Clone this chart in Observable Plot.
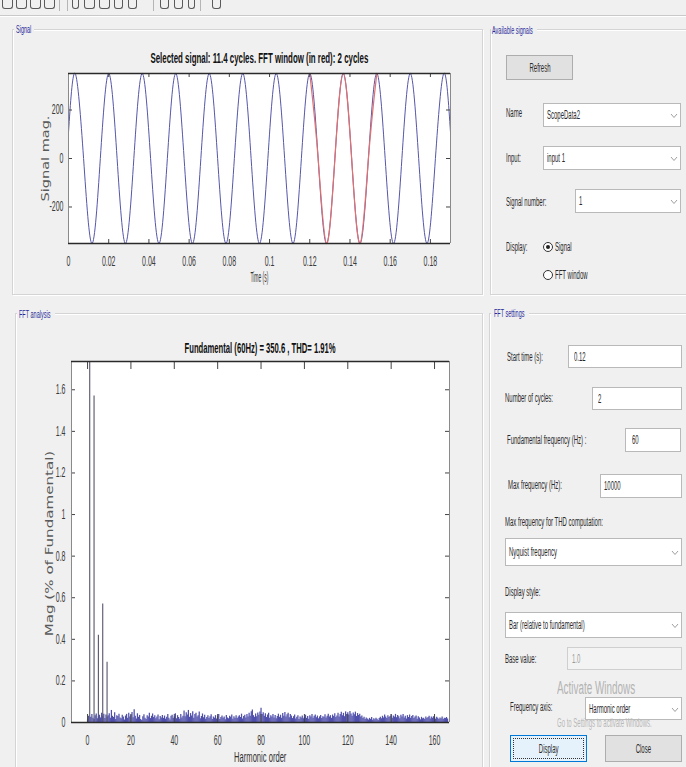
<!DOCTYPE html>
<html>
<head>
<meta charset="utf-8">
<script src="https://cdn.jsdelivr.net/npm/d3@7"></script>
<script src="https://cdn.jsdelivr.net/npm/@observablehq/plot@0.6"></script>
<style>
html, body { margin: 0; padding: 0; }
body { width: 686px; height: 767px; overflow: hidden; background: #f0f0f0; position: relative;
       font-family: "Liberation Sans", Arial, sans-serif; }
.chart { position: absolute; }
.chart svg { display: block; overflow: visible; }
.t { position: absolute; white-space: nowrap; color: #1e1e1e; }
.panel { position: absolute; border: 1px solid #d4d4d4; box-shadow: inset 1px 1px 0 #ffffff, 1px 1px 0 #ffffff; }
.box { position: absolute; background: #ffffff; border: 1px solid #b9b9b9; box-sizing: border-box; }
.box.dis { background: #f3f3f3; border-color: #cfcfcf; }
.btn { position: absolute; background: #e1e1e1; border: 1px solid #adadad; box-sizing: border-box; }
.lbl { position: absolute; background: #f0f0f0; height: 10px; }
#ui { position: absolute; left: 0; top: 0; width: 686px; height: 767px; }
</style>
</head>
<body>
<div id="topChart" class="chart" style="left:0px; top:40px;"></div>
<div id="fftChart" class="chart" style="left:0px; top:330px;"></div>
<div id="ui"></div>
<script>
// ---------------- data ----------------
// Signal (time domain)
const timeTicks = [0, 0.02, 0.04, 0.06, 0.08, 0.1, 0.12, 0.14, 0.16, 0.18];
const signalTicks = [-200, 0, 200];
const timeDomain = [0, 0.19];
const signalDomain = [-350.6, 350.6];
const sampleTime = [0, 0.00333, 0.0075, 0.01167, 0.01583, 0.02, 0.02417, 0.02833, 0.0325,
  0.03667, 0.04083, 0.045, 0.04917, 0.05333, 0.0575, 0.06167, 0.06583, 0.07, 0.07417,
  0.07833, 0.0825, 0.08667, 0.09083, 0.095, 0.09917, 0.10333, 0.1075, 0.11167, 0.11583,
  0.12, 0.12417, 0.12833, 0.1325, 0.13667, 0.14083, 0.145, 0.14917, 0.15333, 0.1575,
  0.16167, 0.16583, 0.17, 0.17417, 0.17833, 0.1825, 0.18667, 0.19];
const sampleMag = [108,
  350.6, 0, -350.6, 0,  350.6, 0, -350.6, 0,  350.6, 0, -350.6, 0,  350.6, 0, -350.6, 0,
  350.6, 0, -350.6, 0,  350.6, 0, -350.6, 0,  350.6, 0, -350.6, 0,  350.6, 0, -350.6, 0,
  350.6, 0, -350.6, 0,  350.6, 0, -350.6, 0,  350.6, 0, -350.6, 0,
  350.6, 108];
const windowStart = 0.12;   // FFT window (in red)
const windowEnd = 0.15334;  // 2 cycles of 60 Hz

// FFT analysis (harmonic spectrum, % of fundamental)
const harmonicTicks = [0, 20, 40, 60, 80, 100, 120, 140, 160];
const magTicks = [0, 0.2, 0.4, 0.6, 0.8, 1, 1.2, 1.4, 1.6];
const harmonicDomain = [-7.4, 166.9];
const magDomain = [0, 1.736];
const harmonicOrder = [1, 3, 5, 7, 9];
const harmonicMag = [100, 1.57, 0.42, 0.57, 0.29];
const noiseStart = 0;
const noiseStep = 0.5;
const noiseMag = [
  0.012,0.030,0.000,0.025,0.038,0.020,0.015,0.032,0.041,0.018,
  0.028,0.035,0.022,0.045,0.030,0.040,0.019,0.036,0.026,0.033,
  0.042,0.021,0.058,0.030,0.024,0.047,0.015,0.033,0.029,0.040,
  0.022,0.018,0.035,0.027,0.012,0.031,0.039,0.020,0.044,0.026,
  0.036,0.048,0.023,0.061,0.030,0.017,0.042,0.025,0.034,0.014,
  0.010,0.028,0.037,0.021,0.015,0.033,0.026,0.045,0.019,0.030,
  0.041,0.024,0.032,0.018,0.027,0.036,0.013,0.029,0.022,0.034,
  0.020,0.031,0.016,0.025,0.038,0.021,0.012,0.030,0.035,0.019,
  0.027,0.042,0.018,0.033,0.024,0.016,0.039,0.022,0.030,0.055,
  0.028,0.047,0.036,0.058,0.025,0.043,0.031,0.052,0.020,0.038,
  0.045,0.026,0.033,0.050,0.018,0.029,0.041,0.023,0.035,0.016,
  0.024,0.032,0.019,0.028,0.037,0.014,0.026,0.021,0.033,0.017,
  0.029,0.038,0.015,0.024,0.031,0.020,0.027,0.013,0.034,0.022,
  0.018,0.030,0.025,0.036,0.016,0.028,0.021,0.033,0.019,0.026,
  0.032,0.024,0.040,0.017,0.029,0.035,0.022,0.038,0.027,0.044,
  0.030,0.052,0.060,0.033,0.025,0.041,0.028,0.046,0.035,0.050,
  0.068,0.039,0.047,0.030,0.042,0.024,0.036,0.045,0.020,0.032,
  0.027,0.038,0.022,0.034,0.018,0.029,0.040,0.025,0.035,0.021,
  0.043,0.030,0.048,0.026,0.037,0.045,0.023,0.039,0.031,0.019,
  0.028,0.036,0.017,0.025,0.033,0.014,0.027,0.022,0.031,0.018,
  0.024,0.035,0.020,0.029,0.016,0.033,0.026,0.038,0.021,0.030,
  0.036,0.023,0.031,0.018,0.027,0.034,0.019,0.028,0.025,0.037,
  0.022,0.030,0.040,0.026,0.033,0.020,0.036,0.029,0.042,0.024,
  0.031,0.045,0.027,0.038,0.049,0.033,0.044,0.028,0.051,0.039,
  0.047,0.035,0.053,0.041,0.030,0.046,0.037,0.050,0.029,0.043,
  0.034,0.040,0.026,0.031,0.019,0.025,0.014,0.022,0.017,0.012,
  0.020,0.015,0.024,0.011,0.018,0.013,0.021,0.016,0.010,0.019,
  0.025,0.018,0.030,0.022,0.036,0.027,0.019,0.033,0.024,0.029,
  0.037,0.021,0.031,0.026,0.039,0.023,0.034,0.028,0.018,0.035,
  0.027,0.038,0.022,0.030,0.017,0.033,0.024,0.036,0.020,0.029,
  0.034,0.019,0.026,0.031,0.016,0.028,0.022,0.013,0.025,0.018,
  0.021,0.014,0.027,0.019,0.024,0.030,0.017,0.026,0.020,0.028,
  0.023,0.016,0.025,0.020,0.014,0.022,0.018,0.027,0.015,0.021,
  0.019,0.024,0.017
];

// ---------------- tables ----------------
const signal = sampleTime.map((t, i) => ({t, v: sampleMag[i]}));
const windowPart = signal.filter(d => d.t >= windowStart - 1e-9 && d.t <= windowEnd);
const mainBars = harmonicOrder.map((h, i) => ({h, mag: harmonicMag[i]}));
const noiseBars = noiseMag.map((m, i) => ({h: noiseStart + i * noiseStep, mag: m}));

const FONT = "'Liberation Sans', Arial, Helvetica, sans-serif";

function squish(svg, sx) {
  svg.querySelectorAll("text").forEach(t => {
    const tr = t.getAttribute("transform");
    if (tr && /translate/.test(tr)) t.setAttribute("transform", tr + ` scale(${sx},1)`);
    else {
      const x = +(t.getAttribute("x") || 0);
      t.setAttribute("transform", `${tr || ""} translate(${x},0) scale(${sx},1) translate(${-x},0)`);
    }
  });
}

// ---------------- top chart: signal ----------------
{
  const W = 470, H = 250, mL = 68, mR = 20, mT = 33, mB = 47;
  const fh = H - mT - mB, fw = W - mL - mR;
  const chart = Plot.plot({
    width: W, height: H, marginLeft: mL, marginRight: mR, marginTop: mT, marginBottom: mB,
    style: {background: "transparent", fontFamily: FONT, fontSize: "14px", color: "#3a3a3a"},
    x: {domain: timeDomain, ticks: timeTicks, tickFormat: d => String(+d.toFixed(2)), tickSize: 0, tickPadding: 13, label: null},
    y: {domain: signalDomain, ticks: signalTicks, tickFormat: d => String(d), tickSize: 0, tickPadding: 5, label: null},
    marks: [
      Plot.frame({fill: "white", stroke: "none"}),
      Plot.line(signal, {x: "t", y: "v", stroke: "#5656aa", strokeWidth: 1, curve: "natural"}),
      Plot.line(windowPart, {x: "t", y: "v", stroke: "#e27070", strokeWidth: 1.2, curve: "natural"}),
      Plot.ruleX(timeTicks, {x: d => d, insetTop: fh - 4, stroke: "#444"}),
      Plot.ruleX(timeTicks, {x: d => d, insetBottom: fh - 4, stroke: "#444"}),
      Plot.ruleY(signalTicks, {y: d => d, insetRight: fw - 4, stroke: "#444"}),
      Plot.ruleY(signalTicks, {y: d => d, insetLeft: fw - 4, stroke: "#444"}),
      Plot.ruleX(timeDomain, {x: d => d, stroke: "#8a8a8a"}),
      Plot.ruleY(signalDomain, {y: d => d, stroke: "#2a2a2a", strokeWidth: 1.5})
    ]
  });
  squish(chart, 0.5);
  document.getElementById("topChart").appendChild(chart);
}

// ---------------- bottom chart: FFT ----------------
{
  const W = 470, H = 420, mL = 71, mR = 21, mT = 31, mB = 28;
  const fh = H - mT - mB, fw = W - mL - mR;
  const chart = Plot.plot({
    width: W, height: H, marginLeft: mL, marginRight: mR, marginTop: mT, marginBottom: mB,
    style: {background: "transparent", fontFamily: FONT, fontSize: "14px", color: "#3a3a3a"},
    x: {domain: harmonicDomain, ticks: harmonicTicks, tickSize: 0, tickPadding: 13, label: null},
    y: {domain: magDomain, ticks: magTicks, tickFormat: d => String(+d.toFixed(1)), tickSize: 0, tickPadding: 6, label: null},
    marks: [
      Plot.frame({fill: "white", stroke: "none"}),
      Plot.ruleX(noiseBars, {x: "h", y1: 0, y2: "mag", stroke: "#5050ac", strokeWidth: 1.25}),
      Plot.ruleX(mainBars, {x: "h", y1: 0, y2: "mag", stroke: "#55556a", strokeWidth: 1.1, clip: true}),
      Plot.ruleX(harmonicTicks, {x: d => d, insetTop: fh - 8, stroke: "#444"}),
      Plot.ruleX(harmonicTicks, {x: d => d, insetBottom: fh - 8, stroke: "#444"}),
      Plot.ruleY(magTicks, {y: d => d, insetRight: fw - 4, stroke: "#444"}),
      Plot.ruleY(magTicks, {y: d => d, insetLeft: fw - 4, stroke: "#444"}),
      Plot.ruleX(harmonicDomain, {x: d => d, stroke: "#8a8a8a"}),
      Plot.ruleY(magDomain, {y: d => d, stroke: "#2a2a2a", strokeWidth: 1.5})
    ]
  });
  squish(chart, 0.5);
  document.getElementById("fftChart").appendChild(chart);
}

// ---------------- GUI (panels, controls, titles) ----------------
const ui = document.getElementById("ui");
function el(cls, x, y, w, h, style) {
  const d = document.createElement("div");
  d.className = cls;
  Object.assign(d.style, {left: x + "px", top: y + "px", width: w + "px", height: h + "px"}, style || {});
  ui.appendChild(d);
  return d;
}
function txt(str, x, y, o = {}) {
  const d = document.createElement("div");
  d.className = "t";
  d.textContent = str;
  const size = o.size || 12;
  Object.assign(d.style, {fontSize: size + "px", lineHeight: size + "px", fontFamily: o.family || FONT,
    fontWeight: o.weight || "normal", color: o.color || "#2a2a2a", zIndex: o.z || 1});
  ui.appendChild(d);
  const w = d.offsetWidth;
  d.style.top = (y - size / 2) + "px";
  if (o.rotate) {
    d.style.left = (x - w / 2) + "px";
    d.style.transformOrigin = "50% 50%";
    const along = o.width ? o.width / w : 1;
    d.style.transform = `scaleX(${o.sx || 0.65}) rotate(-90deg) scaleX(${along})`;
    return d;
  }
  const sx = o.width ? o.width / w : (o.sx || 0.5);
  const a = o.anchor || "start";
  if (a === "middle") { d.style.left = (x - w / 2) + "px"; d.style.transformOrigin = "50% 50%"; }
  else if (a === "end") { d.style.left = (x - w) + "px"; d.style.transformOrigin = "100% 50%"; }
  else { d.style.left = x + "px"; d.style.transformOrigin = "0 50%"; }
  d.style.transform = `scaleX(${sx})`;
  return d;
}
function chevron(x, y) {
  const s = document.createElementNS("http://www.w3.org/2000/svg", "svg");
  s.setAttribute("width", 8); s.setAttribute("height", 6);
  Object.assign(s.style, {position: "absolute", left: x + "px", top: y + "px"});
  s.innerHTML = '<path d="M1,1 L4,4.5 L7,1" fill="none" stroke="#a0a0a0" stroke-width="1"/>';
  ui.appendChild(s);
}
function dropdown(x, y, w, h, label) {
  el("box", x, y, w, h);
  if (label) txt(label, x + 4, y + h / 2, {size: 12});
  chevron(x + w - 11, y + h / 2 - 2);
}
function radio(x, y, on) {
  el("", x - 5, y - 5, 8, 8, {position: "absolute", border: "1px solid #333", borderRadius: "50%", background: "#fff"});
  if (on) el("", x - 2, y - 2, 4, 4, {position: "absolute", borderRadius: "50%", background: "#222"});
}

// toolbar strip
el("", 0, 15, 686, 1, {position: "absolute", background: "#c9c9c9"});
el("", 0, 16, 686, 1, {position: "absolute", background: "#ffffff"});
[[2, 12], [16, 12], [30, 12], [44, 12], [72, 8], [84, 12], [99, 12], [114, 10], [128, 10], [160, 10], [174, 10], [188, 8], [212, 10]]
  .forEach(([x, w]) => el("", x, 0, w - 3, 8, {position: "absolute", border: "1.5px solid #5a5a5a", borderTop: "none", borderRadius: "0 0 3px 3px"}));
[59, 67, 153, 200].forEach(x => el("", x, 0, 1, 11, {position: "absolute", background: "#b5b5b5"}));

// group panels
el("panel", 12, 29, 469, 264);
el("panel", 15, 313, 466, 470);
el("panel", 490, 29, 210, 264);
el("panel", 489, 313, 210, 470);
el("lbl", 14, 24, 20, 10);
el("lbl", 17, 308, 38, 10);
el("lbl", 491, 24, 46, 10);
el("lbl", 491, 308, 38, 10);
txt("Signal", 16, 29, {size: 11, color: "#2b2b9a", sx: 0.5});
txt("FFT analysis", 19, 314, {size: 11, color: "#2b2b9a", sx: 0.5});
txt("Available signals", 492, 30, {size: 11, color: "#2b2b9a", sx: 0.5});
txt("FFT settings", 494, 313, {size: 11, color: "#2b2b9a", sx: 0.5});

// chart titles and axis labels
txt("Selected signal: 11.4 cycles. FFT window (in red): 2 cycles", 259, 58, {size: 14, weight: "bold", anchor: "middle", width: 218, color: "#111"});
txt("Time (s)", 259, 277, {size: 14, anchor: "middle", width: 18, color: "#333"});
txt("Signal mag.", 45, 158, {size: 15, rotate: true, width: 86, sx: 0.7, color: "#5a5a5a", family: "'DejaVu Sans', sans-serif"});
txt("Fundamental (60Hz) = 350.6 , THD= 1.91%", 260, 348, {size: 14, weight: "bold", anchor: "middle", width: 151, color: "#111"});
txt("Harmonic order", 260, 757, {size: 14, anchor: "middle", width: 52, color: "#333"});
txt("Mag (% of Fundamental)", 50, 543, {size: 15, rotate: true, width: 186, sx: 0.7, color: "#5a5a5a", family: "'DejaVu Sans', sans-serif"});

// Available signals controls
el("btn", 506, 55, 67, 25);
txt("Refresh", 539.5, 67.5, {size: 12, anchor: "middle"});
txt("Name", 506, 113, {size: 12});
dropdown(543, 103, 138, 24, "ScopeData2");
txt("Input:", 506, 158, {size: 12});
dropdown(543, 146, 138, 24, "input 1");
txt("Signal number:", 506, 202, {size: 12});
dropdown(575, 189, 106, 24, "1");
txt("Display:", 506, 247, {size: 12});
radio(548, 247, true);
txt("Signal", 555, 247, {size: 12});
radio(548, 275, false);
txt("FFT window", 555, 275, {size: 12});

// FFT settings controls
txt("Start time (s):", 507, 357, {size: 12});
el("box", 568, 345, 114, 23); txt("0.12", 574, 356.5, {size: 12});
txt("Number of cycles:", 505, 398, {size: 12});
el("box", 592, 387, 90, 23); txt("2", 598, 398.5, {size: 12});
txt("Fundamental frequency (Hz) :", 507, 440, {size: 12});
el("box", 625, 428, 56, 24); txt("60", 632, 440, {size: 12});
txt("Max frequency (Hz):", 508, 485, {size: 12});
el("box", 600, 474, 82, 24); txt("10000", 604, 486, {size: 12});
txt("Max frequency for THD computation:", 505, 522, {size: 12});
dropdown(505, 538, 177, 28, "Nyquist frequency");
txt("Display style:", 505, 592, {size: 12});
dropdown(505, 612, 177, 26, "Bar (relative to fundamental)");
txt("Base value:", 505, 659, {size: 12});
el("box dis", 567, 647, 115, 23); txt("1.0", 572, 658.5, {size: 12, color: "#9a9a9a"});
txt("Frequency axis:", 510, 707, {size: 12});
dropdown(585, 697, 97, 23, "Harmonic order");
txt("Activate Windows", 557, 688, {size: 18, color: "#b3b3b3", sx: 0.55, z: 5});
txt("Go to Settings to activate Windows.", 557, 723, {size: 12, color: "#b8b8b8", sx: 0.5, z: 5});
el("btn", 510, 735, 77, 27, {background: "#e5f1fb", borderColor: "#0078d7"});
el("", 513, 738, 69, 19, {position: "absolute", border: "1px dotted #333"});
txt("Display", 548.5, 748.5, {size: 12, anchor: "middle"});
el("btn", 605, 735, 77, 27);
txt("Close", 643.5, 748.5, {size: 12, anchor: "middle"});
</script>
</body>
</html>
